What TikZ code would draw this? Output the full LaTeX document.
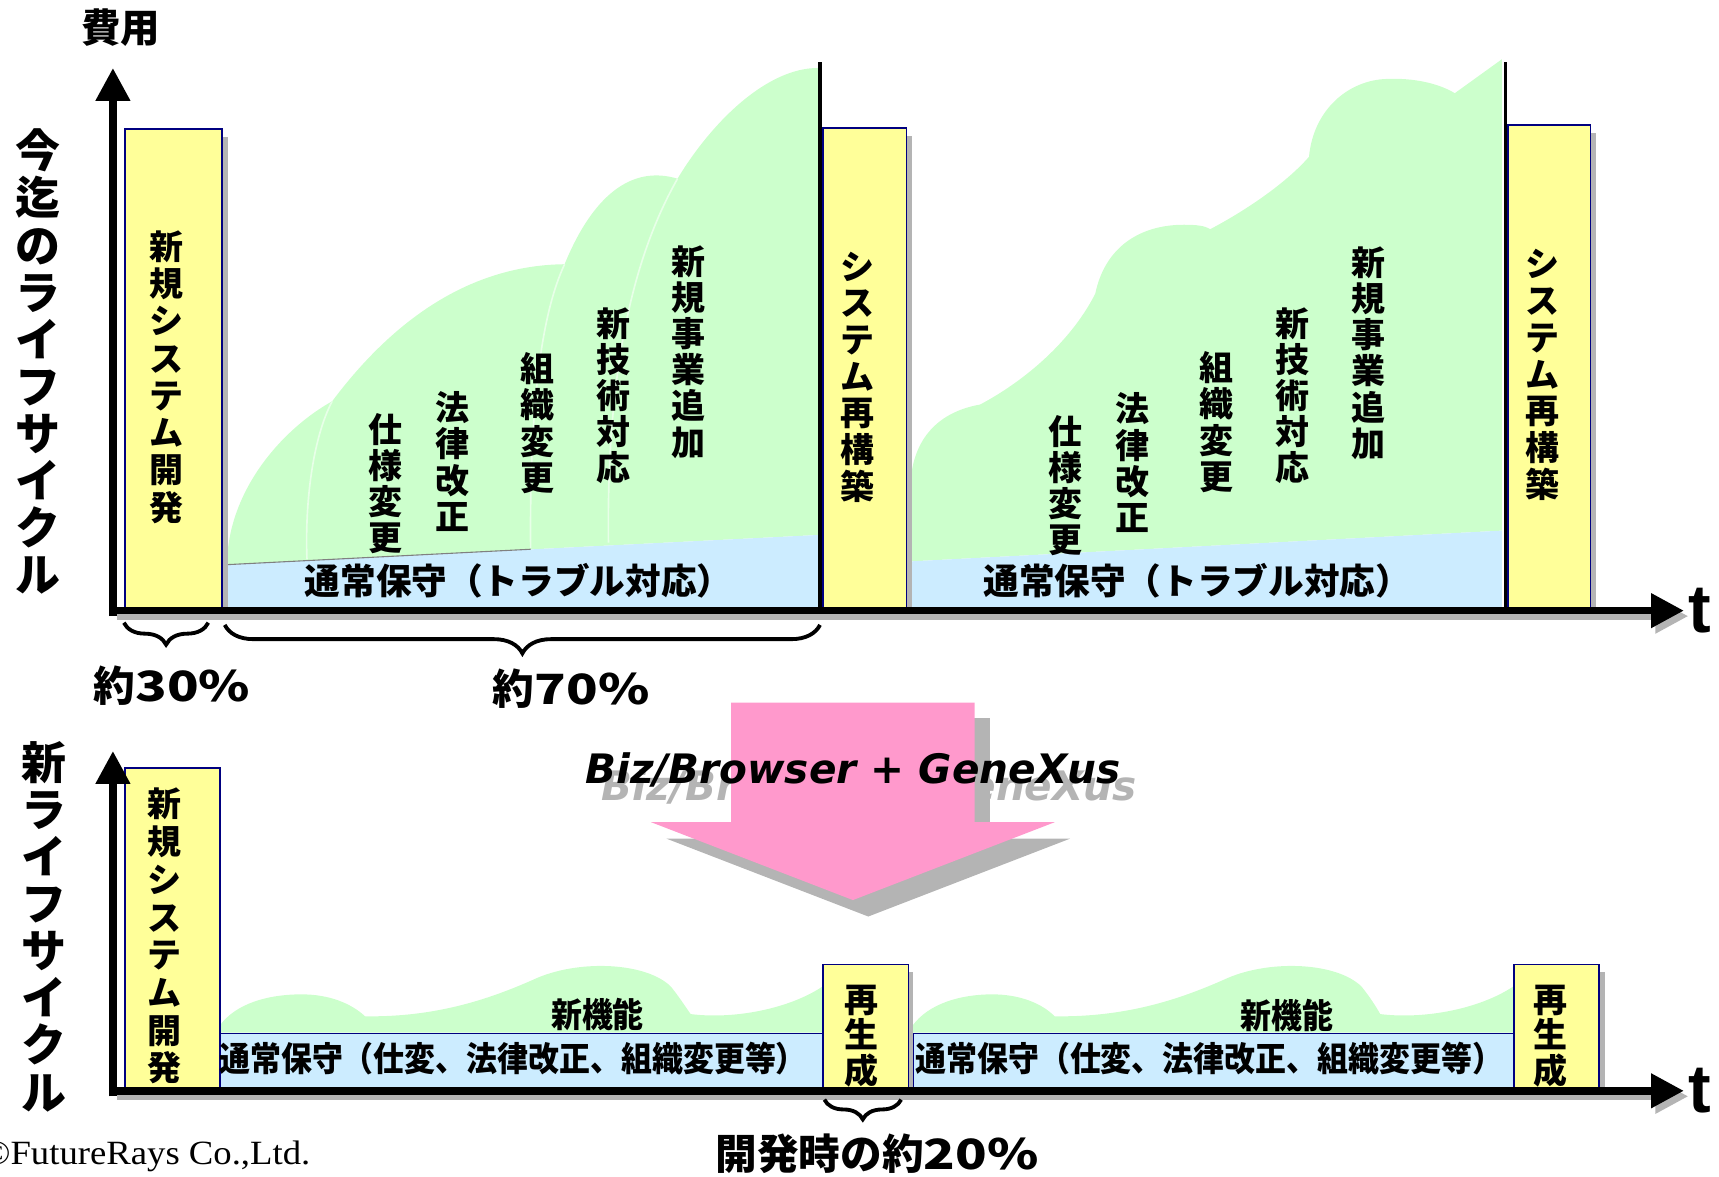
\documentclass[tikz,border=0pt]{standalone}
\usepackage{fontspec}
\newfontfamily\jp{Noto Sans CJK JP}
\newfontfamily\jpn{Noto Sans CJK JP}[FakeStretch=0.91]
\newfontfamily\jpw{Noto Sans CJK JP}[FakeStretch=1.25]
\newfontfamily\dv{DejaVu Sans}
\newfontfamily\ls{Liberation Sans}
\newfontfamily\sr{Liberation Serif}[FakeStretch=1.08]
\usetikzlibrary{decorations.pathreplacing,arrows.meta}
\definecolor{yb}{HTML}{FFFF99}
\definecolor{gf}{HTML}{CCFFCC}
\definecolor{bf}{HTML}{CCECFF}
\definecolor{pk}{HTML}{FF99CC}
\definecolor{sh}{HTML}{B4B4B4}
\definecolor{nv}{HTML}{000080}
\begin{document}
\begin{tikzpicture}[x=1pt,y=-1pt,
  ybox/.style={fill=yb, draw=nv, line width=1.5pt, inner sep=0pt, anchor=north west},
  vt/.style={align=center, inner sep=0pt, font=\jp\bfseries\fontsize{31}{33}\selectfont},
  ht/.style={inner sep=0pt, font=\jp\bfseries\fontsize{32.5}{36}\selectfont},
  hn/.style={inner sep=0pt, font=\jpn\bfseries\fontsize{31}{34}\selectfont},
  pct/.style={inner sep=0pt, font=\jp\bfseries\fontsize{38}{40}\selectfont},
  axisline/.style={line width=7pt, -{Triangle[length=30pt,width=30pt]}},
  axshadow/.style={line width=7pt, draw=sh, -{Triangle[length=30pt,width=30pt]}},
  brc/.style={decorate, decoration={brace, amplitude=#1}, line width=3.5pt},
  arcline/.style={draw=white!55!gf, line width=1.5pt},
]
\useasboundingbox (0,0) rectangle (1568,1073);

% ================= UPPER PART =================
% green hills, period 1
\fill[gf] (208,515) -- (208,500) .. controls (215,440) and (260,390) .. (303,366)
  .. controls (360,290) and (430,242) .. (515,241)
  .. controls (540,180) and (575,150) .. (618,163)
  .. controls (650,110) and (700,62) .. (746,62)
  -- (746,488) -- cycle;
\draw[arcline] (303,366) .. controls (285,400) and (278,460) .. (280,510);
\draw[arcline] (515,241) .. controls (492,290) and (483,380) .. (484,500);
\draw[arcline] (618,163) .. controls (580,230) and (553,330) .. (555,495);
% blue band period 1
\fill[bf] (208,515) -- (746,488) -- (746,557) -- (208,557) -- cycle;
\draw[gray, line width=1pt] (208,515) -- (484,501);

% green hills, period 2
\fill[gf] (832,512) -- (832,428) .. controls (838,395) and (860,375) .. (894,369)
  .. controls (930,350) and (975,315) .. (999,268)
  .. controls (1008,225) and (1040,205) .. (1080,205)
  .. controls (1092,205) and (1099,206) .. (1104,209)
  .. controls (1140,190) and (1175,165) .. (1194,143)
  .. controls (1198,100) and (1230,73) .. (1265,72)
  .. controls (1290,71) and (1312,76) .. (1327,85)
  -- (1370,54) -- (1370,484) -- cycle;
\fill[bf] (832,512) -- (1370,484) -- (1370,557) -- (832,557) -- cycle;

% black vertical separators
\coordinate (s1t) at (748,57); \coordinate (s1b) at (748,557);
\coordinate (s2t) at (1373,57); \coordinate (s2b) at (1373,557);
\draw[line width=3pt] (s1t) -- (s1b);
\draw[line width=3pt] (s2t) -- (s2b);

% yellow boxes with shadows
\fill[sh] (202,125) rectangle (208,561);
\fill[sh] (826,124) rectangle (832,561);
\fill[sh] (1450,121) rectangle (1456,561);
\node[ybox, minimum width=89pt, minimum height=440pt] (box1) at (113,117) {};
\node[ybox, minimum width=76pt, minimum height=441pt] (box2) at (750,116) {};
\node[ybox, minimum width=75pt, minimum height=444pt] (box3) at (1375,113) {};

% axes (upper)
\coordinate (o1) at (103,557);
\coordinate (y1) at (103,62);
\coordinate (x1) at (1536,557);
\draw[axshadow] (107,562) -- (1540,562);
\draw[axisline] (103,562) -- (y1);
\draw[axisline] (100,557) -- (x1);
\node[inner sep=0pt, anchor=base west, font=\ls\bfseries\fontsize{62}{62}\selectfont] (t1) at (1540,577) {t};

% labels upper
\node[inner sep=0pt, font=\jp\bfseries\fontsize{36}{36}\selectfont] (cost) at (110,25) {費用};
\node[align=center, inner sep=0pt, font=\jp\bfseries\fontsize{41}{43}\selectfont] (oldlc) at (35,330)
  {今\\迄\\の\\ラ\\イ\\フ\\サ\\イ\\ク\\ル};
\node[vt, font=\jp\bfseries\fontsize{31}{34}\selectfont] (b1t) at (152,344) {新\\規\\シ\\ス\\テ\\ム\\開\\発};
\node[vt, font=\jp\bfseries\fontsize{31}{33.5}\selectfont] (b2t) at (782,344) {シ\\ス\\テ\\ム\\再\\構\\築};
\node[vt, font=\jp\bfseries\fontsize{31}{33.5}\selectfont] (b3t) at (1407,342) {シ\\ス\\テ\\ム\\再\\構\\築};

\node[vt] (a1) at (352,441) {仕\\様\\変\\更};
\node[vt] (a2) at (413,421) {法\\律\\改\\正};
\node[vt] (a3) at (490,386) {組\\織\\変\\更};
\node[vt] (a4) at (560,361) {新\\技\\術\\対\\応};
\node[vt] (a5) at (628,321) {新\\規\\事\\業\\追\\加};
\node[vt] (c1) at (972,443) {仕\\様\\変\\更};
\node[vt] (c2) at (1033,422) {法\\律\\改\\正};
\node[vt] (c3) at (1110,385) {組\\織\\変\\更};
\node[vt] (c4) at (1179,361) {新\\技\\術\\対\\応};
\node[vt] (c5) at (1248,322) {新\\規\\事\\業\\追\\加};

\node[ht] (m1) at (473,530) {通常保守（トラブル対応）};
\node[ht] (m2) at (1092,530) {通常保守（トラブル対応）};

% braces
\coordinate (br1a) at (190,568); \coordinate (br1b) at (113,568);
\coordinate (br2a) at (748,570); \coordinate (br2b) at (205,570);
\draw[brc=20pt] (br1a) -- (br1b);
\draw[brc=26pt] (br2a) -- (br2b);
\node[pct] (p30) at (157,625) {約{\jpw 30\%}};
\node[pct] (p70) at (521,628) {約{\jpw 70\%}};

% ================= ARROW =================
\node[inner sep=0pt, text=sh, font=\dv\bfseries\itshape\fontsize{37}{40}\selectfont] (bizs) at (793,718) {Biz/Browser + GeneXus};
\fill[sh] (681,655) -- (903,655) -- (903,765) -- (976,765) -- (792,836) -- (608,765) -- (681,765) -- cycle;
\fill[pk] (667,641) -- (889,641) -- (889,750) -- (962,750) -- (778,821) -- (594,750) -- (667,750) -- cycle;
\node[inner sep=0pt, font=\dv\bfseries\itshape\fontsize{37}{40}\selectfont] (biz) at (778,702) {Biz/Browser + GeneXus};

% ================= LOWER PART =================
\fill[gf] (200,942) -- (200,936) .. controls (215,915) and (245,907) .. (275,907)
  .. controls (300,907) and (320,915) .. (333,927)
  .. controls (400,928) and (450,910) .. (490,892)
  .. controls (530,875) and (590,878) .. (612,900)
  .. controls (620,910) and (625,918) .. (630,925)
  .. controls (670,930) and (720,920) .. (750,900) -- (750,942) -- cycle;
\fill[gf] (832,942) -- (832,936) .. controls (847,915) and (877,907) .. (905,907)
  .. controls (930,907) and (950,915) .. (962,927)
  .. controls (1030,928) and (1080,910) .. (1120,892)
  .. controls (1160,875) and (1220,878) .. (1242,900)
  .. controls (1250,910) and (1255,918) .. (1259,925)
  .. controls (1300,930) and (1350,920) .. (1380,900) -- (1380,942) -- cycle;

\node[fill=bf, draw=nv, line width=1.5pt, inner sep=0pt, anchor=north west, minimum width=550pt, minimum height=53pt] (mb1) at (200,942) {};
\node[fill=bf, draw=nv, line width=1.5pt, inner sep=0pt, anchor=north west, minimum width=548pt, minimum height=53pt] (mb2) at (832,942) {};

\fill[sh] (828,887) rectangle (833,998);
\fill[sh] (1458,887) rectangle (1464,998);
\node[ybox, minimum width=87pt, minimum height=295pt] (lb1) at (113,700) {};
\node[ybox, minimum width=78pt, minimum height=116pt] (rg1) at (750,879) {};
\node[ybox, minimum width=78pt, minimum height=116pt] (rg2) at (1380,879) {};

% axes (lower)
\coordinate (y2) at (103,685);
\coordinate (x2) at (1536,995);
\draw[axshadow] (107,1000) -- (1540,1000);
\draw[axisline] (103,1000) -- (y2);
\draw[axisline] (100,995) -- (x2);
\node[inner sep=0pt, anchor=base west, font=\ls\bfseries\fontsize{62}{62}\selectfont] (t2) at (1540,1015) {t};

\node[align=center, inner sep=0pt, font=\jp\bfseries\fontsize{41}{43}\selectfont] (newlc) at (40,845)
  {新\\ラ\\イ\\フ\\サ\\イ\\ク\\ル};
\node[vt, font=\jp\bfseries\fontsize{31}{34.4}\selectfont] (lb1t) at (150,854) {新\\規\\シ\\ス\\テ\\ム\\開\\発};
\node[vt, font=\jp\bfseries\fontsize{31}{32.5}\selectfont] (rg1t) at (786,945) {再\\生\\成};
\node[vt, font=\jp\bfseries\fontsize{31}{32.5}\selectfont] (rg2t) at (1414,945) {再\\生\\成};

\node[hn] (nf1) at (545,925) {新機能};
\node[hn] (nf2) at (1174,926) {新機能};
\node[hn] (lm1) at (468,966) {通常保守（仕変、法律改正、組織変更等）};
\node[hn] (lm2) at (1103,966) {通常保守（仕変、法律改正、組織変更等）};

\coordinate (br3a) at (822,1003); \coordinate (br3b) at (752,1003);
\draw[brc=18pt] (br3a) -- (br3b);
\node[pct] (p20) at (800,1052) {開発時の約{\jpw 20\%}};

\node[inner sep=0pt, anchor=base west, font=\sr\fontsize{31}{33}\selectfont] (copy) at (-16,1062) {©FutureRays Co.,Ltd.};
\end{tikzpicture}
\end{document}
